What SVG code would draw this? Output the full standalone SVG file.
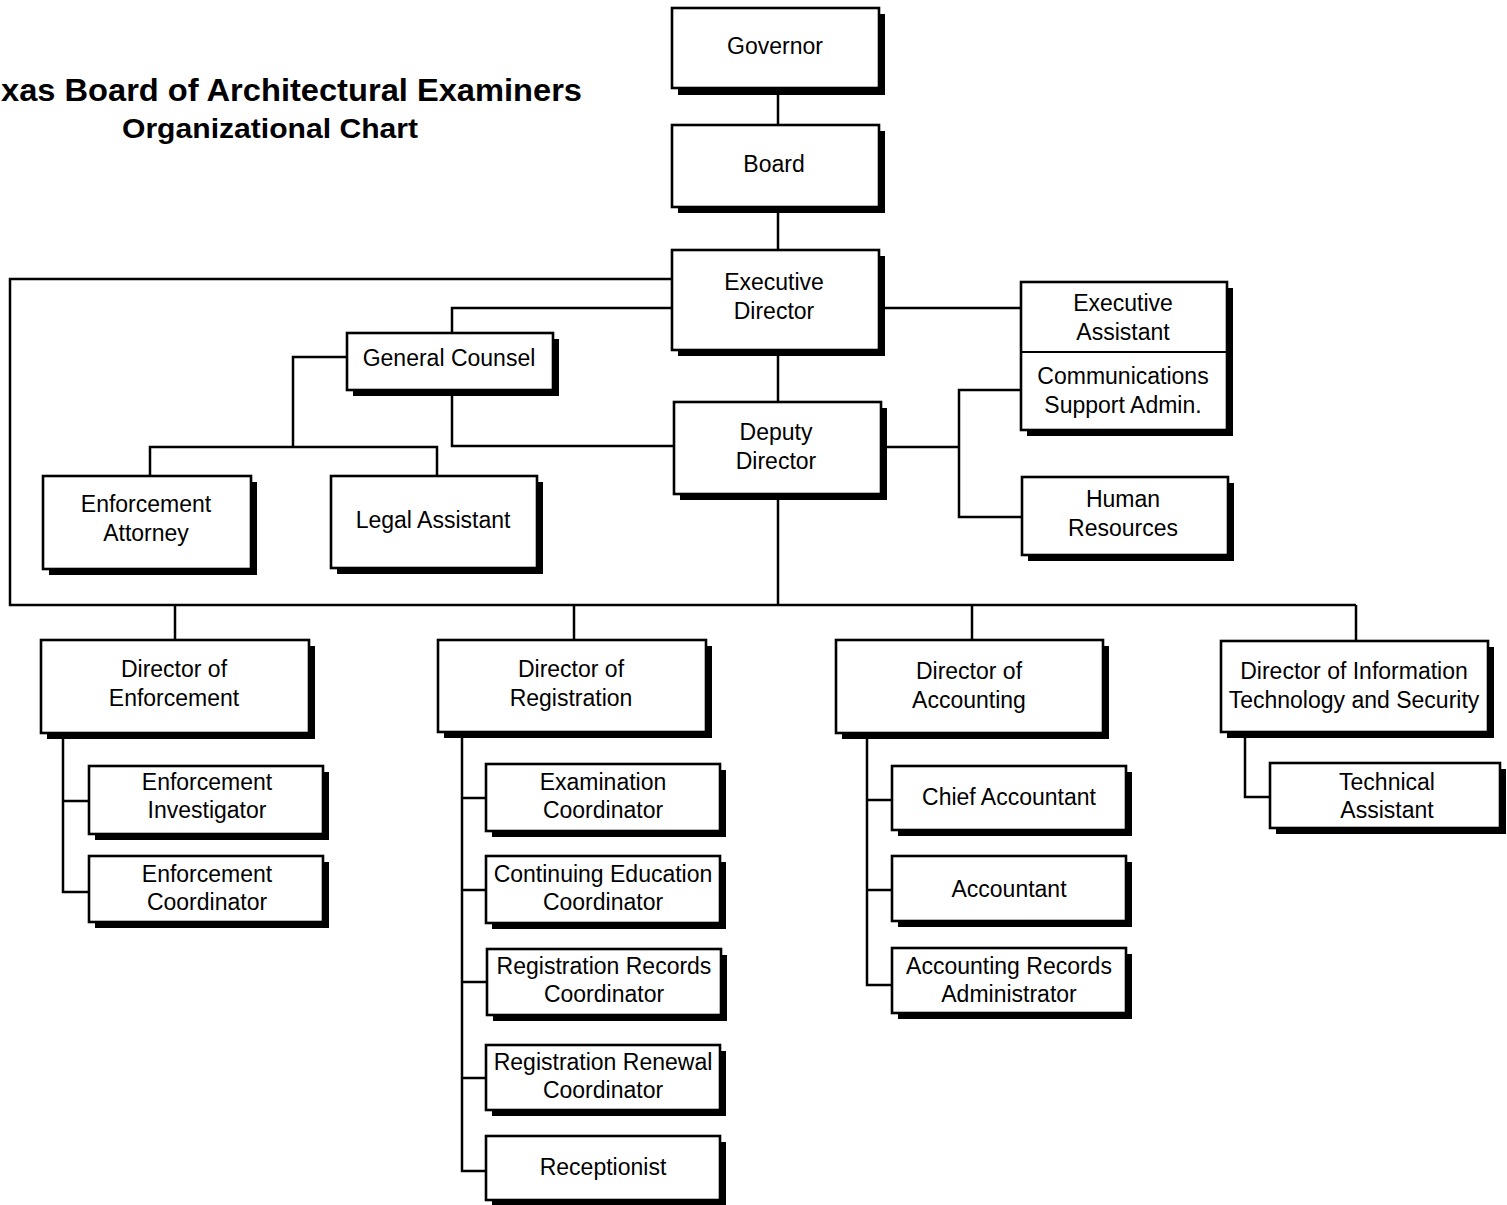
<svg xmlns="http://www.w3.org/2000/svg" width="1507" height="1205" viewBox="0 0 1507 1205">
<style>
.sh{fill:#000}
.bx{fill:#fff;stroke:#000;stroke-width:2.6}
.t{font-family:"Liberation Sans",Arial,sans-serif;font-size:23px;fill:#000;text-anchor:middle}
.ttl{font-family:"Liberation Sans",Arial,sans-serif;font-weight:bold;fill:#000}
.c{fill:none;stroke:#000;stroke-width:2.5}
</style>
<rect x="0" y="0" width="1507" height="1205" fill="#fff"/>
<g id="title">
<text class="ttl" x="1" y="101" font-size="32" textLength="581" lengthAdjust="spacingAndGlyphs">xas Board of Architectural Examiners</text>
<text class="ttl" x="122" y="138" font-size="27" textLength="296" lengthAdjust="spacingAndGlyphs">Organizational  Chart</text>
</g>
<g id="connectors">
<path class="c" d="M778 88V125M778 207V250M778 350V402M778 494V605"/>
<path class="c" d="M672 279H10V605H1356"/>
<path class="c" d="M672 308H452V333M879 308H1021"/>
<path class="c" d="M347 357H293V447M150 476V447H437V476"/>
<path class="c" d="M452 390V446H674"/>
<path class="c" d="M881 447H959M1021 390H959V517H1022"/>
<path class="c" d="M175 605V640M574 605V640M972 605V640M1356 605V641"/>
<path class="c" d="M63 733V892H89M63 801H89"/>
<path class="c" d="M462 732V1171H486M462 798H486M462 890H486M462 982H487M462 1078H486"/>
<path class="c" d="M867 733V985H892M867 800H892M867 890H892"/>
<path class="c" d="M1245 732V797H1270"/>
</g>
<g id="governor"><rect class="sh" x="678" y="14" width="207" height="81"/><rect class="bx" x="672" y="8" width="207" height="80"/><text class="t" x="775" y="54">Governor</text></g>
<g id="board"><rect class="sh" x="678" y="131" width="207" height="82"/><rect class="bx" x="672" y="125" width="207" height="82"/><text class="t" x="774" y="172">Board</text></g>
<g id="executive-director"><rect class="sh" x="678" y="256" width="207" height="100"/><rect class="bx" x="672" y="250" width="207" height="100"/><text class="t" x="774" y="290">Executive</text><text class="t" x="774" y="319">Director</text></g>
<g id="executive-assistant"><rect class="sh" x="1027" y="288" width="206" height="148"/><rect class="bx" x="1021" y="282" width="206" height="148"/><line x1="1021" y1="352" x2="1227" y2="352" stroke="#000" stroke-width="2"/><text class="t" x="1123" y="311">Executive</text><text class="t" x="1123" y="340">Assistant</text><text class="t" x="1123" y="384">Communications</text><text class="t" x="1123" y="413">Support Admin.</text></g>
<g id="general-counsel"><rect class="sh" x="353" y="339" width="206" height="57"/><rect class="bx" x="347" y="333" width="206" height="57"/><text class="t" x="449" y="366">General Counsel</text></g>
<g id="deputy-director"><rect class="sh" x="680" y="408" width="207" height="92"/><rect class="bx" x="674" y="402" width="207" height="92"/><text class="t" x="776" y="440">Deputy</text><text class="t" x="776" y="469">Director</text></g>
<g id="human-resources"><rect class="sh" x="1028" y="483" width="206" height="78"/><rect class="bx" x="1022" y="477" width="206" height="78"/><text class="t" x="1123" y="507">Human</text><text class="t" x="1123" y="536">Resources</text></g>
<g id="enforcement-attorney"><rect class="sh" x="49" y="482" width="208" height="93"/><rect class="bx" x="43" y="476" width="208" height="93"/><text class="t" x="146" y="512">Enforcement</text><text class="t" x="146" y="541">Attorney</text></g>
<g id="legal-assistant"><rect class="sh" x="337" y="482" width="206" height="92"/><rect class="bx" x="331" y="476" width="206" height="92"/><text class="t" x="433" y="528">Legal Assistant</text></g>
<g id="director-enforcement"><rect class="sh" x="47" y="646" width="268" height="93"/><rect class="bx" x="41" y="640" width="268" height="93"/><text class="t" x="174" y="677">Director of</text><text class="t" x="174" y="706">Enforcement</text></g>
<g id="director-registration"><rect class="sh" x="444" y="646" width="268" height="92"/><rect class="bx" x="438" y="640" width="268" height="92"/><text class="t" x="571" y="677">Director of</text><text class="t" x="571" y="706">Registration</text></g>
<g id="director-accounting"><rect class="sh" x="842" y="646" width="267" height="93"/><rect class="bx" x="836" y="640" width="267" height="93"/><text class="t" x="969" y="679">Director of</text><text class="t" x="969" y="708">Accounting</text></g>
<g id="director-it"><rect class="sh" x="1227" y="647" width="267" height="91"/><rect class="bx" x="1221" y="641" width="267" height="91"/><text class="t" x="1354" y="679">Director of Information</text><text class="t" x="1354" y="708">Technology and Security</text></g>
<g id="enforcement-investigator"><rect class="sh" x="95" y="772" width="234" height="68"/><rect class="bx" x="89" y="766" width="234" height="68"/><text class="t" x="207" y="790">Enforcement</text><text class="t" x="207" y="818">Investigator</text></g>
<g id="enforcement-coordinator"><rect class="sh" x="95" y="862" width="234" height="66"/><rect class="bx" x="89" y="856" width="234" height="66"/><text class="t" x="207" y="882">Enforcement</text><text class="t" x="207" y="910">Coordinator</text></g>
<g id="examination-coordinator"><rect class="sh" x="492" y="770" width="234" height="67"/><rect class="bx" x="486" y="764" width="234" height="67"/><text class="t" x="603" y="790">Examination</text><text class="t" x="603" y="818">Coordinator</text></g>
<g id="continuing-education-coordinator"><rect class="sh" x="492" y="862" width="234" height="67"/><rect class="bx" x="486" y="856" width="234" height="67"/><text class="t" x="603" y="882">Continuing Education</text><text class="t" x="603" y="910">Coordinator</text></g>
<g id="registration-records-coordinator"><rect class="sh" x="493" y="955" width="234" height="66"/><rect class="bx" x="487" y="949" width="234" height="66"/><text class="t" x="604" y="974">Registration Records</text><text class="t" x="604" y="1002">Coordinator</text></g>
<g id="registration-renewal-coordinator"><rect class="sh" x="492" y="1051" width="234" height="65"/><rect class="bx" x="486" y="1045" width="234" height="65"/><text class="t" x="603" y="1070">Registration Renewal</text><text class="t" x="603" y="1098">Coordinator</text></g>
<g id="receptionist"><rect class="sh" x="492" y="1142" width="234" height="64"/><rect class="bx" x="486" y="1136" width="234" height="64"/><text class="t" x="603" y="1175">Receptionist</text></g>
<g id="chief-accountant"><rect class="sh" x="898" y="772" width="234" height="64"/><rect class="bx" x="892" y="766" width="234" height="64"/><text class="t" x="1009" y="805">Chief Accountant</text></g>
<g id="accountant"><rect class="sh" x="898" y="862" width="234" height="65"/><rect class="bx" x="892" y="856" width="234" height="65"/><text class="t" x="1009" y="897">Accountant</text></g>
<g id="accounting-records-administrator"><rect class="sh" x="898" y="954" width="234" height="65"/><rect class="bx" x="892" y="948" width="234" height="65"/><text class="t" x="1009" y="974">Accounting Records</text><text class="t" x="1009" y="1002">Administrator</text></g>
<g id="technical-assistant"><rect class="sh" x="1276" y="769" width="230" height="65"/><rect class="bx" x="1270" y="763" width="230" height="65"/><text class="t" x="1387" y="790">Technical</text><text class="t" x="1387" y="818">Assistant</text></g>
</svg>
